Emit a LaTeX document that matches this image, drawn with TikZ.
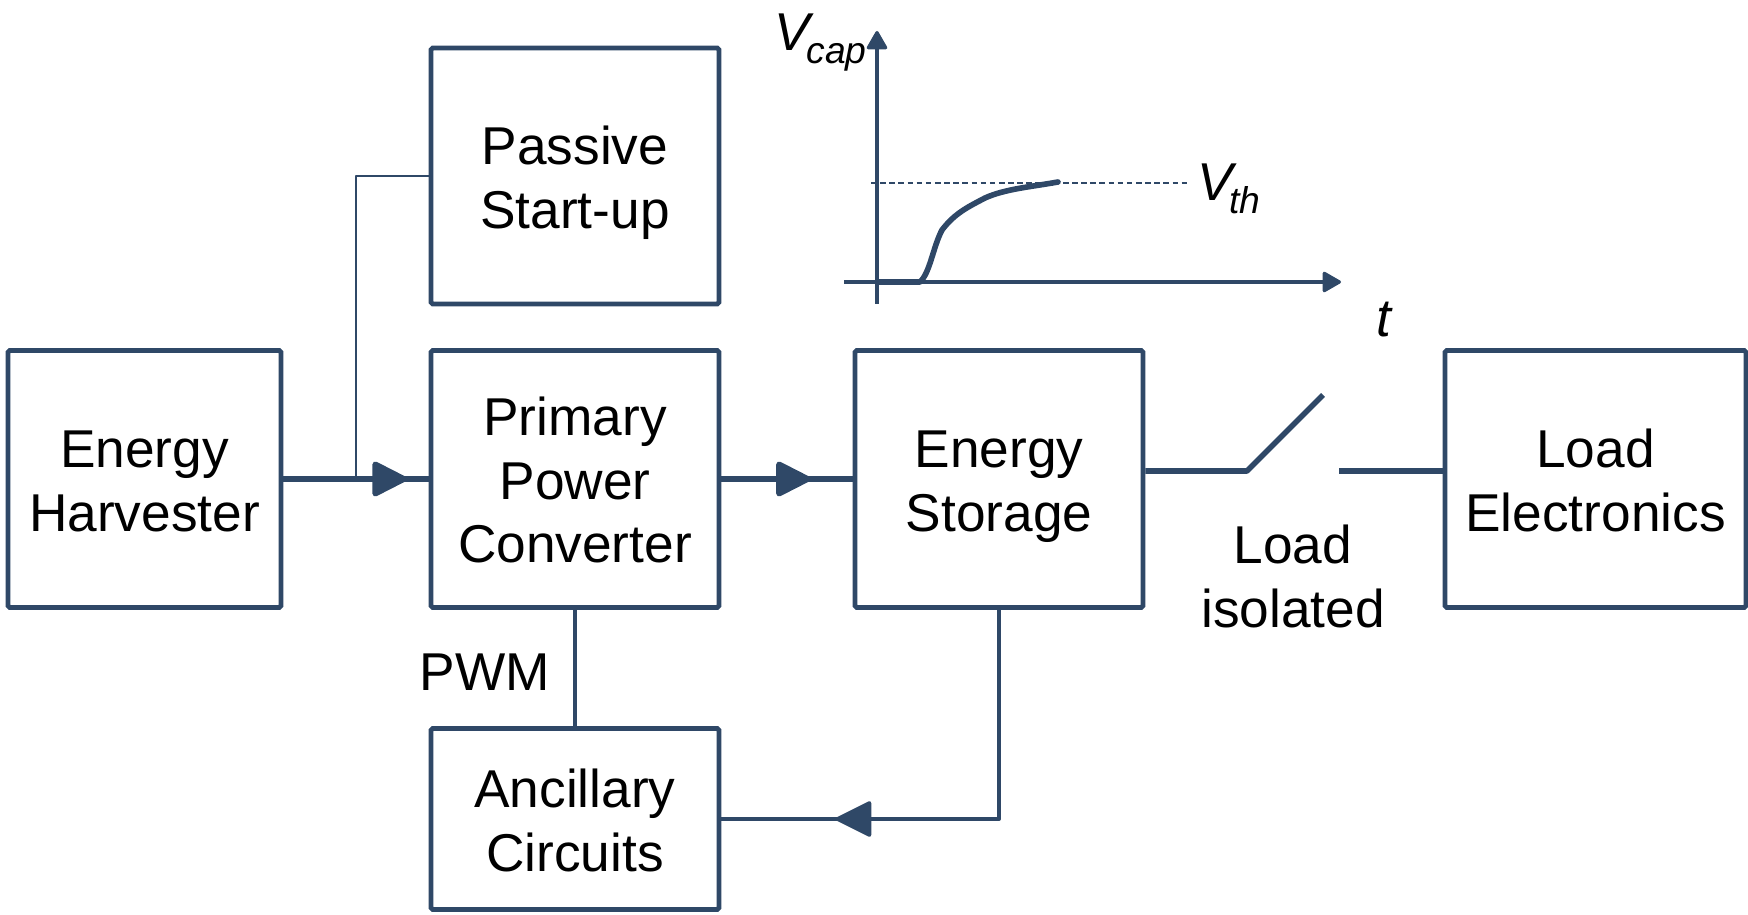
\documentclass[tikz,border=0pt]{standalone}
\usepackage{fontspec}
\setmainfont{Liberation Sans}
\usepackage{tikz}
\usetikzlibrary{arrows.meta,calc,decorations.markings}
\definecolor{linenavy}{RGB}{47,72,103}
\newcommand{\subtxt}[1]{\kern-2.2pt\raisebox{-0.45ex}{\fontsize{10.6pt}{12pt}\selectfont\itshape #1}}
\newcommand{\boxstrut}{\rule[-4pt]{0pt}{19.4pt}}
\tikzset{
  base/.style={font=\fontsize{15.15pt}{18.2pt}\selectfont, align=center, inner sep=0pt, text=black},
  box/.style={base, rectangle, rounded corners=0.5pt, draw=linenavy, fill=white, line width=1.35pt, minimum height=2.57cm, minimum width=2.88cm, execute at end node=\boxstrut},
  wire/.style={line width=1.1pt, draw=linenavy, line join=round},
  wirethick/.style={wire, line width=1.6pt},
  wirethin/.style={wire, line width=0.5pt},
  midarr/.style={postaction={decorate}, decoration={markings, mark=at position #1 with {\arrow[linenavy, line join=round]{Triangle[length=3.8mm,width=3.7mm,round]}}}},
  axis/.style={wire, line width=0.9pt, -{Triangle[length=2mm,width=2.2mm,round]}},
  thres/.style={draw=linenavy, line width=0.5pt, dash pattern=on 1.6pt off 1pt},
  curve/.style={draw=linenavy, line width=1.6pt, line cap=round, line join=round},
  lbl/.style={base},
}
\begin{document}
\begin{tikzpicture}
  \useasboundingbox (0,0) rectangle (17.48,9.15);
  % blocks
  \node[box,minimum width=2.73cm] (harv) at (1.445,4.36) {\boxstrut Energy\\Harvester};
  \node[box,minimum height=2.56cm] (start) at (5.75,7.39) {\boxstrut Passive\\Start-up};
  \node[box] (conv) at (5.75,4.36) {\boxstrut Primary\\Power\\Converter};
  \node[box] (store) at (9.99,4.36) {\boxstrut Energy\\Storage};
  \node[box,minimum width=3.01cm] (load) at (15.955,4.36) {\boxstrut Load\\Electronics};
  \node[box,minimum height=1.81cm] (anc) at (5.75,0.96) {\boxstrut Ancillary\\Circuits};
  % links between blocks
  \draw[wirethick,midarr=0.85] (harv) -- (conv);
  \draw[wirethick,midarr=0.68] (conv) -- (store);
  \coordinate (tap) at (3.56,4.36);
  \draw[wirethin] (start.west) -| (tap);
  \draw[wire] (conv) -- (anc);
  \draw[wire,midarr=0.765] (store.south) |- (anc.east);
  \node[lbl] (pwm) at (4.85,2.43) {PWM};
  % load switch
  \coordinate (swa) at (12.47,4.44);
  \coordinate (swb) at (13.23,5.2);
  \coordinate (swc) at (13.39,4.44);
  \draw[wirethick] (store.east |- swa) -- (swa) -- (swb);
  \draw[wirethick] (swc) -- (load.west |- swc);
  \node[lbl] (iso) at (12.93,3.39) {Load\\isolated};
  % charging curve
  \coordinate (xa) at (8.44,6.33);
  \coordinate (xb) at (13.41,6.33);
  \coordinate (ya) at (8.77,6.11);
  \coordinate (yb) at (8.77,8.84);
  \coordinate (tha) at (8.71,7.32);
  \coordinate (thb) at (11.88,7.32);
  \draw[axis] (xa) -- (xb);
  \draw[axis] (ya) -- (yb);
  \draw[thres] (tha) -- (thb);
  \draw[curve] (8.77,6.33) -- (9.2,6.33) .. controls (9.3,6.42) and (9.33,6.68) .. (9.42,6.85)
    .. controls (9.55,7.02) and (9.68,7.08) .. (9.85,7.17) .. controls (10.05,7.26) and (10.3,7.28) .. (10.58,7.33);
  \node[lbl,anchor=base west] (vcap) at (7.74,8.64) {\textit{V}\subtxt{cap}};
  \node[lbl,anchor=base west] (vth) at (11.97,7.14) {\textit{V}\subtxt{th}};
  \node[lbl] (taxis) at (13.85,5.95) {\textit{t}};
\end{tikzpicture}
\end{document}
